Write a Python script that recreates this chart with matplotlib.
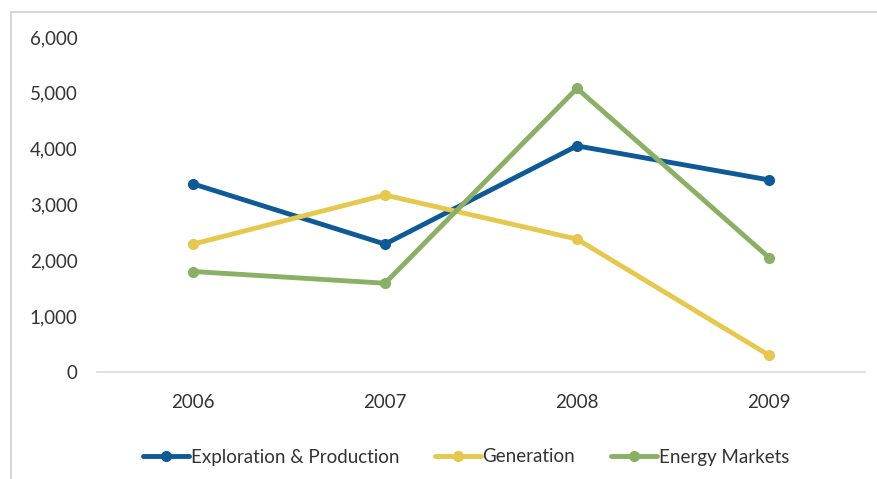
import matplotlib.pyplot as plt
from matplotlib.lines import Line2D
from matplotlib.ticker import FuncFormatter

years = ["2006", "2007", "2008", "2009"]
exploration_production = [3370, 2290, 4050, 3440]
generation = [2290, 3170, 2380, 300]
energy_markets = [1800, 1590, 5080, 2050]

series_names = ["Exploration & Production", "Generation", "Energy Markets"]
colors = ["#0E5A96", "#E6C84E", "#8AB066"]

plt.rcParams["font.family"] = ["Lato", "DejaVu Sans"]

fig = plt.figure(figsize=(8.77, 4.79), dpi=100)
ax = fig.add_axes([97 / 877, 1 - 372 / 479, 768 / 877, 335 / 479])

x = range(len(years))
for values, name, color in zip([exploration_production, generation, energy_markets],
                               series_names, colors):
    ax.plot(x, values, color=color, linewidth=3.5, marker="o", markersize=7,
            label=name, solid_capstyle="round")

ax.set_xlim(-0.5, len(years) - 0.5)
ax.set_ylim(0, 6000)
ax.set_yticks(range(0, 6001, 1000))
ax.yaxis.set_major_formatter(FuncFormatter(lambda v, p: f"{int(v):,}"))
ax.set_xticks(list(x))
ax.set_xticklabels(years)

for side in ["top", "right", "left"]:
    ax.spines[side].set_visible(False)
ax.spines["bottom"].set_color("#D9D9D9")
ax.spines["bottom"].set_linewidth(1.2)
ax.tick_params(axis="both", length=0, labelsize=13.5, colors="#333333")
ax.tick_params(axis="y", pad=14)
ax.tick_params(axis="x", pad=16)

# outer chart frame (left and top edges visible)
fig.add_artist(Line2D([11 / 877, 11 / 877], [0, 1 - 12 / 479], color="#D0D0D0",
                      linewidth=1.2, transform=fig.transFigure))
fig.add_artist(Line2D([11 / 877, 1], [1 - 12 / 479, 1 - 12 / 479], color="#D0D0D0",
                      linewidth=1.2, transform=fig.transFigure))

fig.legend(loc="center", bbox_to_anchor=(466 / 877, 1 - 457 / 479), ncol=3,
           frameon=False, fontsize=13.5, handlelength=2.45, handletextpad=0.1,
           columnspacing=1.9, labelcolor="#333333")

plt.savefig("out.png", dpi=100)
plt.close()
